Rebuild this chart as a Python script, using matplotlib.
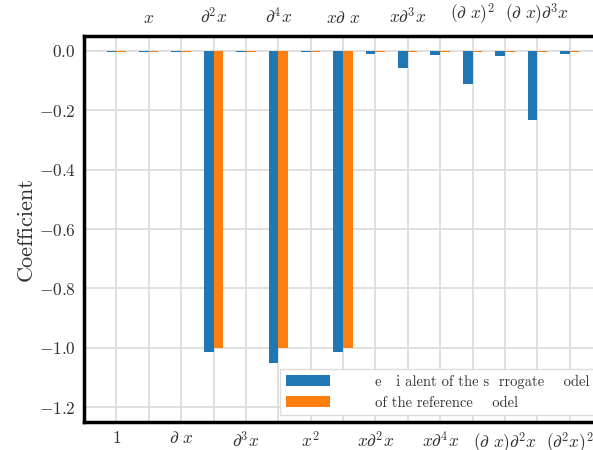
import numpy as np
import matplotlib
matplotlib.use('Agg')
import matplotlib.pyplot as plt

plt.rcParams['font.family'] = 'serif'
plt.rcParams['font.serif'] = ['cmr10']
plt.rcParams['mathtext.fontset'] = 'cm'
plt.rcParams['axes.formatter.use_mathtext'] = True

terms = [r'$1$', r'$x$', r'$\partial\ x$', r'$\partial^2x$', r'$\partial^3x$',
         r'$\partial^4x$', r'$x^2$', r'$x\partial\ x$', r'$x\partial^2x$',
         r'$x\partial^3x$', r'$x\partial^4x$', r'$(\partial\ x)^2$',
         r'$(\partial\ x)\partial^2x$', r'$(\partial\ x)\partial^3x$',
         r'$(\partial^2x)^2$']

surrogate = [-0.003, -0.003, -0.003, -1.013, -0.003, -1.05, -0.003, -1.013,
             -0.010, -0.057, -0.013, -0.113, -0.016, -0.232, -0.010]
reference = [-0.003, -0.003, -0.003, -1.0, -0.003, -1.0, -0.003, -1.0,
             -0.003, -0.003, -0.003, -0.003, -0.003, -0.003, -0.003]

label_surr = '       e   i alent of the s  rrogate    odel'
label_ref = '       of the reference    odel'

pos = np.arange(len(terms))
w = 0.3

fig = plt.figure(figsize=(5.93, 4.5), dpi=100)
ax = fig.add_axes([84 / 593, 28 / 450, 518 / 593, 386 / 450])

ax.bar(pos - w / 2, surrogate, w, color='#1f77b4', label=label_surr, zorder=3)
ax.bar(pos + w / 2, reference, w, color='#ff7f0e', label=label_ref, zorder=3)

ax.set_xlim(-1, 15)
ax.set_ylim(-1.25, 0.05)
ax.set_yticks([0.0, -0.2, -0.4, -0.6, -0.8, -1.0, -1.2])

ax.set_xticks(pos)
ax.set_xticklabels([t if i % 2 == 0 else '' for i, t in enumerate(terms)])
top = ax.secondary_xaxis('top')
top.set_xticks(pos[1::2])
top.set_xticklabels(terms[1::2])

ax.tick_params(axis='both', length=0, labelsize=12.5, pad=6, colors='#333333')
top.tick_params(length=0, labelsize=12.5, pad=7, colors='#333333')
ax.tick_params(axis='y', pad=6)

ax.grid(True, color='#dddddd', linewidth=1.3, zorder=0)
ax.set_axisbelow(True)
for s in ['left', 'bottom', 'top']:
    ax.spines[s].set_linewidth(2.5)
    ax.spines[s].set_color('black')
top.spines['top'].set_visible(False)
ax.spines['right'].set_visible(False)

ax.set_ylabel('Coefficient', fontsize=16, color='#333333', labelpad=2)

ax.legend(loc='lower right', fontsize=10.5, handlelength=3.0, borderaxespad=0.45,
          framealpha=1, fancybox=False, edgecolor='#dddddd', labelcolor='#333333')

fig.savefig('out.png', dpi=100)
